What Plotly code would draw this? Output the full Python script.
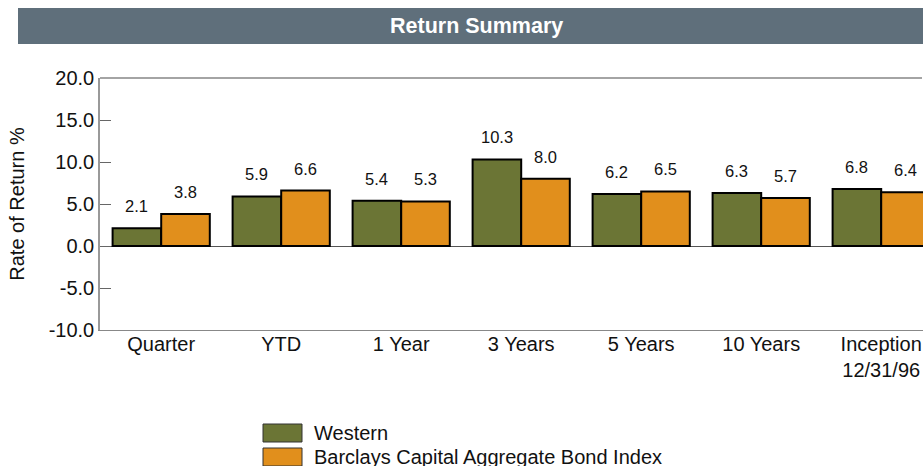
import plotly.graph_objects as go

# Return summary: fund vs. benchmark, by period
categories = ["Quarter", "YTD", "1 Year", "3 Years", "5 Years", "10 Years", "Inception<br>12/31/96"]
western = [2.1, 5.9, 5.4, 10.3, 6.2, 6.3, 6.8]
barclays = [3.8, 6.6, 5.3, 8.0, 6.5, 5.7, 6.4]
series_names = ["Western", "Barclays Capital Aggregate Bond Index"]
y_ticks = [-10, -5, 0, 5, 10, 15, 20]

GREEN = "#6b7535"
ORANGE = "#e18f1c"
FONT = "Liberation Sans, Arial, sans-serif"

W, H = 923, 466
L, R, T, B = 100, 0, 78, 136
PW, PH = W - L - R, H - T - B

def px_x(x):
    return (x - L) / PW

def px_y(y):
    return (H - B - y) / PH

xs = list(range(len(categories)))
bw = 0.405

fig = go.Figure()
fig.add_bar(x=xs, y=western, width=bw, offset=-bw, name=series_names[0],
            marker=dict(color=GREEN, line=dict(color="#000000", width=2)), showlegend=False)
fig.add_bar(x=xs, y=barclays, width=bw, offset=0, name=series_names[1],
            marker=dict(color=ORANGE, line=dict(color="#000000", width=2)), showlegend=False)

annotations = []
for i, (a, b) in enumerate(zip(western, barclays)):
    for xv, v in ((i - bw / 2, a), (i + bw / 2, b)):
        annotations.append(dict(x=xv, y=v, xref="x", yref="y", text=f"{v:.1f}",
                                showarrow=False, yanchor="bottom", yshift=11,
                                font=dict(family=FONT, size=16.5, color="#111111")))

# header band
shapes = [
    dict(type="rect", xref="paper", yref="paper", x0=px_x(18), x1=px_x(930),
         y0=px_y(44), y1=px_y(8), fillcolor="#5f6f7b", line=dict(width=0), layer="above"),
    dict(type="line", xref="paper", yref="paper", x0=0, x1=px_x(922),
         y0=1, y1=1, line=dict(color="#4a4a4a", width=1.2)),
]
annotations.append(dict(x=px_x(476), y=px_y(26), xref="paper", yref="paper",
                        text="<b>Return Summary</b>", showarrow=False,
                        xanchor="center", yanchor="middle",
                        font=dict(family="Liberation Sans Narrow, Arial Narrow, Liberation Sans, sans-serif",
                                  size=21.5, color="#ffffff")))

# legend
legend_rows = [(series_names[0], GREEN, 424), (series_names[1], ORANGE, 448)]
for name, col, ytop in legend_rows:
    shapes.append(dict(type="rect", xref="paper", yref="paper",
                       x0=px_x(263), x1=px_x(302), y0=px_y(ytop + 18), y1=px_y(ytop),
                       fillcolor=col, line=dict(color="#333333", width=1)))
    annotations.append(dict(x=px_x(312), y=px_y(ytop + 9), xref="paper", yref="paper",
                            text=name, showarrow=False, xanchor="left", yanchor="middle",
                            font=dict(family=FONT, size=20, color="#111111")))

fig.update_layout(
    width=W, height=H,
    margin=dict(l=L, r=R, t=T, b=B, pad=0),
    paper_bgcolor="#ffffff", plot_bgcolor="#ffffff",
    barmode="overlay",
    shapes=shapes, annotations=annotations,
    font=dict(family=FONT, color="#111111"),
    xaxis=dict(range=[-0.51, -0.51 + PW / 120], tickmode="array", tickvals=xs,
               ticktext=categories, showgrid=False, zeroline=False,
               showline=True, linecolor="#888888", linewidth=1.2, ticks="",
               ticklabelstandoff=-4,
               tickfont=dict(family=FONT, size=20, color="#111111"), fixedrange=True),
    yaxis=dict(range=[-10, 20], tickmode="array", tickvals=y_ticks,
               ticktext=[f"{v:.1f}" for v in y_ticks], showgrid=False,
               zeroline=True, zerolinecolor="#555555", zerolinewidth=1.2,
               showline=True, linecolor="#999999", linewidth=1.5,
               ticks="inside", ticklen=11, tickcolor="#666666", tickwidth=1,
               tickfont=dict(family=FONT, size=20, color="#111111"),
               title=dict(text="Rate of Return %", standoff=19,
                          font=dict(family=FONT, size=20, color="#111111")),
               fixedrange=True),
)

fig.write_html("out.html", config={"displayModeBar": False})
